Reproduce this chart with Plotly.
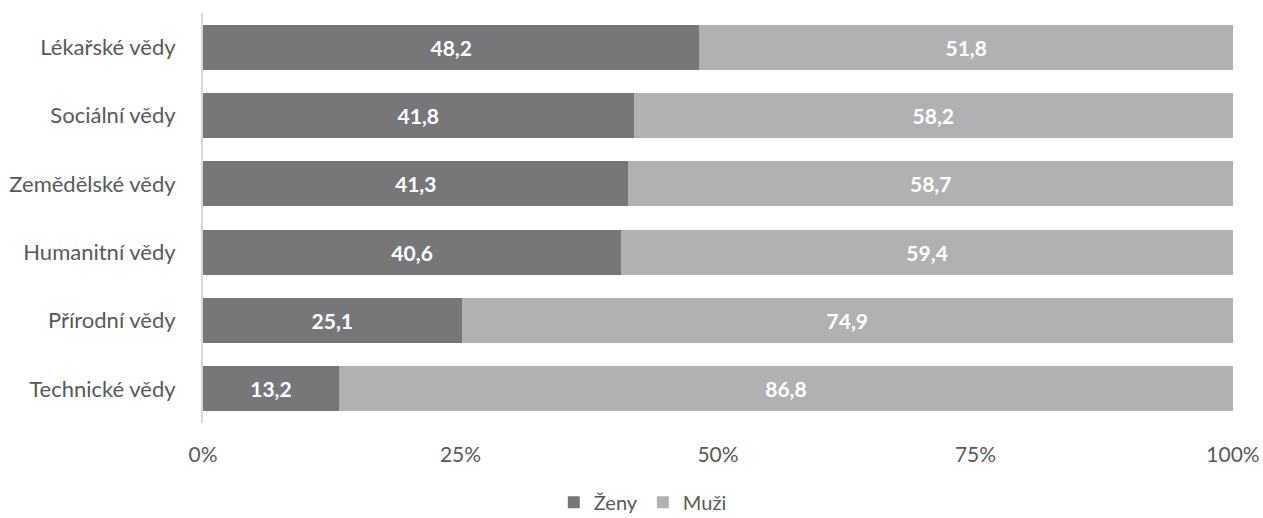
import plotly.graph_objects as go

categories = ["Lékařské vědy", "Sociální vědy", "Zemědělské vědy", "Humanitní vědy", "Přírodní vědy", "Technické vědy"]
zeny = [48.2, 41.8, 41.3, 40.6, 25.1, 13.2]
muzi = [51.8, 58.2, 58.7, 59.4, 74.9, 86.8]
tick_vals = [0, 25, 50, 75, 100]
tick_text = ["0%", "25%", "50%", "75%", "100%"]

def fmt(v):
    return f"{v:.1f}".replace(".", ",")

font_family = "Lato, Open Sans, sans-serif"
label_font = dict(color="white", size=21, family=font_family, weight="bold")

fig = go.Figure()
fig.add_trace(go.Bar(
    y=categories, x=zeny, name="Ženy", orientation="h",
    marker=dict(color="#77777a", line=dict(width=0)),
    text=[fmt(v) for v in zeny], textposition="inside", insidetextanchor="middle",
    textfont=label_font, hoverinfo="skip",
))
fig.add_trace(go.Bar(
    y=categories, x=muzi, name="Muži", orientation="h",
    marker=dict(color="#b1b1b4", line=dict(width=0)),
    text=[fmt(v) for v in muzi], textposition="inside", insidetextanchor="middle",
    textfont=label_font, hoverinfo="skip",
))

fig.update_layout(
    barmode="stack",
    bargap=0.34,
    width=1263, height=518,
    margin=dict(l=203, r=30, t=13, b=95, autoexpand=False),
    plot_bgcolor="white", paper_bgcolor="white",
    font=dict(family=font_family, size=21, color="#595959"),
    uniformtext=dict(mode="show", minsize=10),
    legend=dict(orientation="h", x=0.427, xanchor="center", y=-0.193, yanchor="middle",
                font=dict(size=20, color="#595959"), itemwidth=30, traceorder="normal"),
    showlegend=True,
)
fig.update_xaxes(range=[0, 100], tickvals=tick_vals, ticktext=tick_text,
                 showgrid=False, zeroline=False, showline=False,
                 tickfont=dict(size=21), automargin=False,
                 ticklabelstandoff=17, fixedrange=True)
fig.update_yaxes(autorange="reversed", showgrid=False, zeroline=False,
                 showline=True, linecolor="#d9d9d9", linewidth=2,
                 tickfont=dict(size=22), automargin=False,
                 ticklabelstandoff=21, fixedrange=True)

fig.write_html("out.html", config={"displayModeBar": False},
               post_script="document.body.style.margin='0';")
